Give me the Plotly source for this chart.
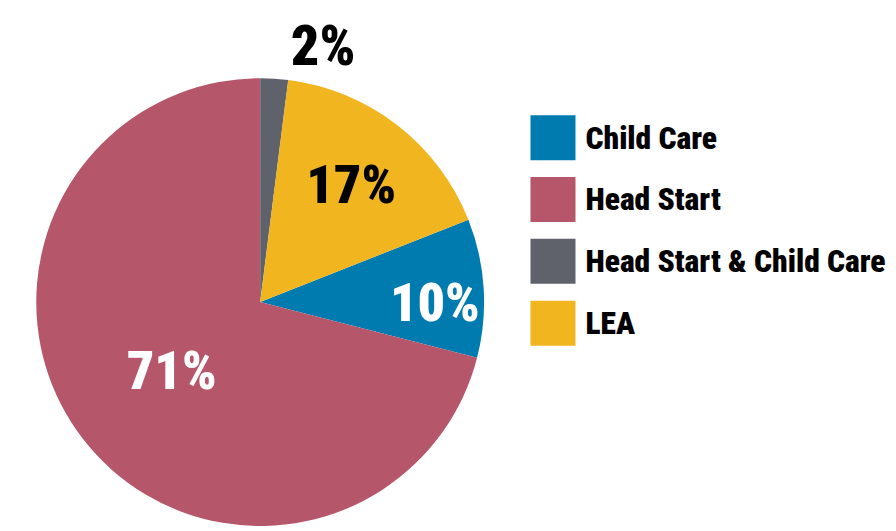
import plotly.graph_objects as go

labels = ["Child Care", "Head Start", "Head Start & Child Care", "LEA"]
values = [10, 71, 2, 17]
colors = ["#007BAF", "#B5566A", "#5F626B", "#F0B51F"]
inside_text_colors = ["#FFFFFF", "#FFFFFF", "#000000", "#000000"]
text_positions = ["inside", "inside", "outside", "inside"]

FONT = "Roboto Condensed, Liberation Sans Narrow, DejaVu Sans Condensed, sans-serif"
# the page body keeps the browser's default 8px margin, so the figure fills the rest
OFF = 8
W, H = 896 - OFF, 531 - OFF

fig = go.Figure()

fig.add_trace(go.Pie(
    labels=labels,
    values=values,
    sort=False,
    direction="clockwise",
    rotation=68.4,
    marker=dict(colors=colors, line=dict(width=0)),
    texttemplate="%{percent:.0%}",
    textposition=text_positions,
    insidetextorientation="horizontal",
    insidetextfont=dict(family=FONT, size=54, color=inside_text_colors, weight=900),
    outsidetextfont=dict(family=FONT, size=56, color="#000000", weight=900),
    domain=dict(x=[2 / W, 482 / W], y=[0, 1 - 45 / H]),
    hoverinfo="label+percent",
    showlegend=False,
))

# Custom legend (large swatches) drawn with a scatter on a pixel-scaled axis
legend_y = list(range(len(labels)))
fig.add_trace(go.Scatter(
    x=[0] * len(labels),
    y=legend_y,
    mode="markers",
    marker=dict(symbol="square", size=45, color=colors, line=dict(width=0)),
    hoverinfo="skip",
    showlegend=False,
    cliponaxis=False,
))
fig.add_trace(go.Scatter(
    x=[33] * len(labels),
    y=[v + 0.05 for v in legend_y],
    mode="text",
    text=labels,
    textposition="middle right",
    textfont=dict(family=FONT, size=31.5, color="#000000", weight=900),
    hoverinfo="skip",
    showlegend=False,
    cliponaxis=False,
))

x0 = 547.5 - OFF
y0, dy = 116.5 - OFF, 66
fig.update_layout(
    width=W, height=H,
    margin=dict(l=0, r=0, t=0, b=0),
    paper_bgcolor="white",
    plot_bgcolor="rgba(0,0,0,0)",
    xaxis=dict(range=[-x0, W - x0], visible=False, fixedrange=True),
    yaxis=dict(range=[(H - y0) / dy, -y0 / dy], visible=False, fixedrange=True),
)

fig.write_html("out.html", config={"displayModeBar": False})
